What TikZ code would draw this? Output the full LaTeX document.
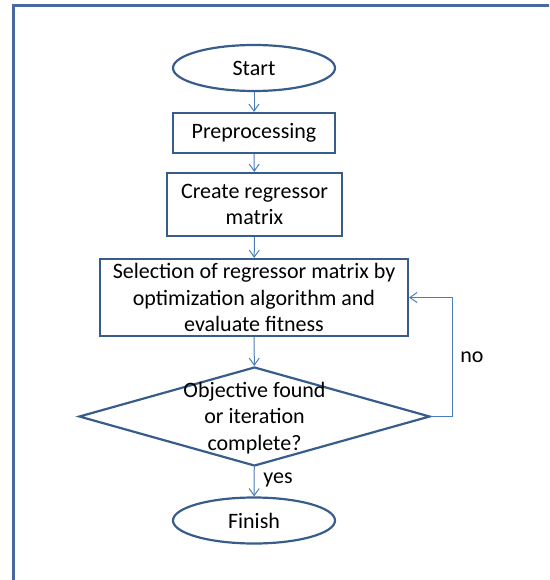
\documentclass[tikz,border=0pt]{standalone}
\usepackage{fontspec}
\setmainfont{Carlito}
\usetikzlibrary{shapes.geometric,arrows.meta}
\definecolor{boxline}{HTML}{385D8A}
\definecolor{arrline}{HTML}{4A7EBB}
\definecolor{frameline}{HTML}{4669A0}
\begin{document}
\begin{tikzpicture}[x=1pt, y=-1pt, font=\fontsize{22}{26.7}\selectfont,
				term/.style = {draw=boxline, line width=2.2pt, ellipse, minimum width=162pt, minimum height=46pt, inner sep=0pt},
				proc/.style = {draw=boxline, line width=2.2pt, rectangle, align=center, inner sep=0pt},
				decide/.style = {draw=boxline, line width=2.2pt, diamond, minimum width=351pt, minimum height=99pt, inner sep=0pt},
				flow/.style = {draw=arrline, line width=1pt, -{Straight Barb[length=7pt,width=10pt]}}]

				\useasboundingbox (0,0) rectangle (549,580);
				\clip (0,0) rectangle (549,580);
				\draw[frameline, line width=3pt] (13.5,5.5) rectangle (620,640);

				\node[term] (start) at (254,68) {Start};
				\node[proc, minimum width=162pt, minimum height=40pt] (prep) at (254,133) {Preprocessing};
				\node[proc, minimum width=175pt, minimum height=63pt] (create) at (254.5,204.5) {Create regressor\\matrix};
				\node[proc, minimum width=308pt, minimum height=77pt] (select) at (254,297.5) {Selection of regressor matrix by\\optimization algorithm and\\evaluate fitness};
				\node[decide] (check) at (254.5,416.5) {};
				\node[align=center, inner sep=0pt] (checktext) at (254.5,418) {Objective found\\or iteration\\complete?};
				\node[term] (finish) at (254,520.5) {Finish};
				\coordinate (loop) at (452,416.5);

				\draw[flow] (start) to (prep);
				\draw[flow] (prep) to (create);
				\draw[flow] (create) to (select);
				\draw[flow] (select) to (check);
				\draw[flow] (check) to (finish);
				\draw[flow] (check.east) -- (loop) |- (select.east);

				\node (yes) at (278,480) {yes};
				\node (no) at (472,357) {no};

			\end{tikzpicture}
\end{document}
